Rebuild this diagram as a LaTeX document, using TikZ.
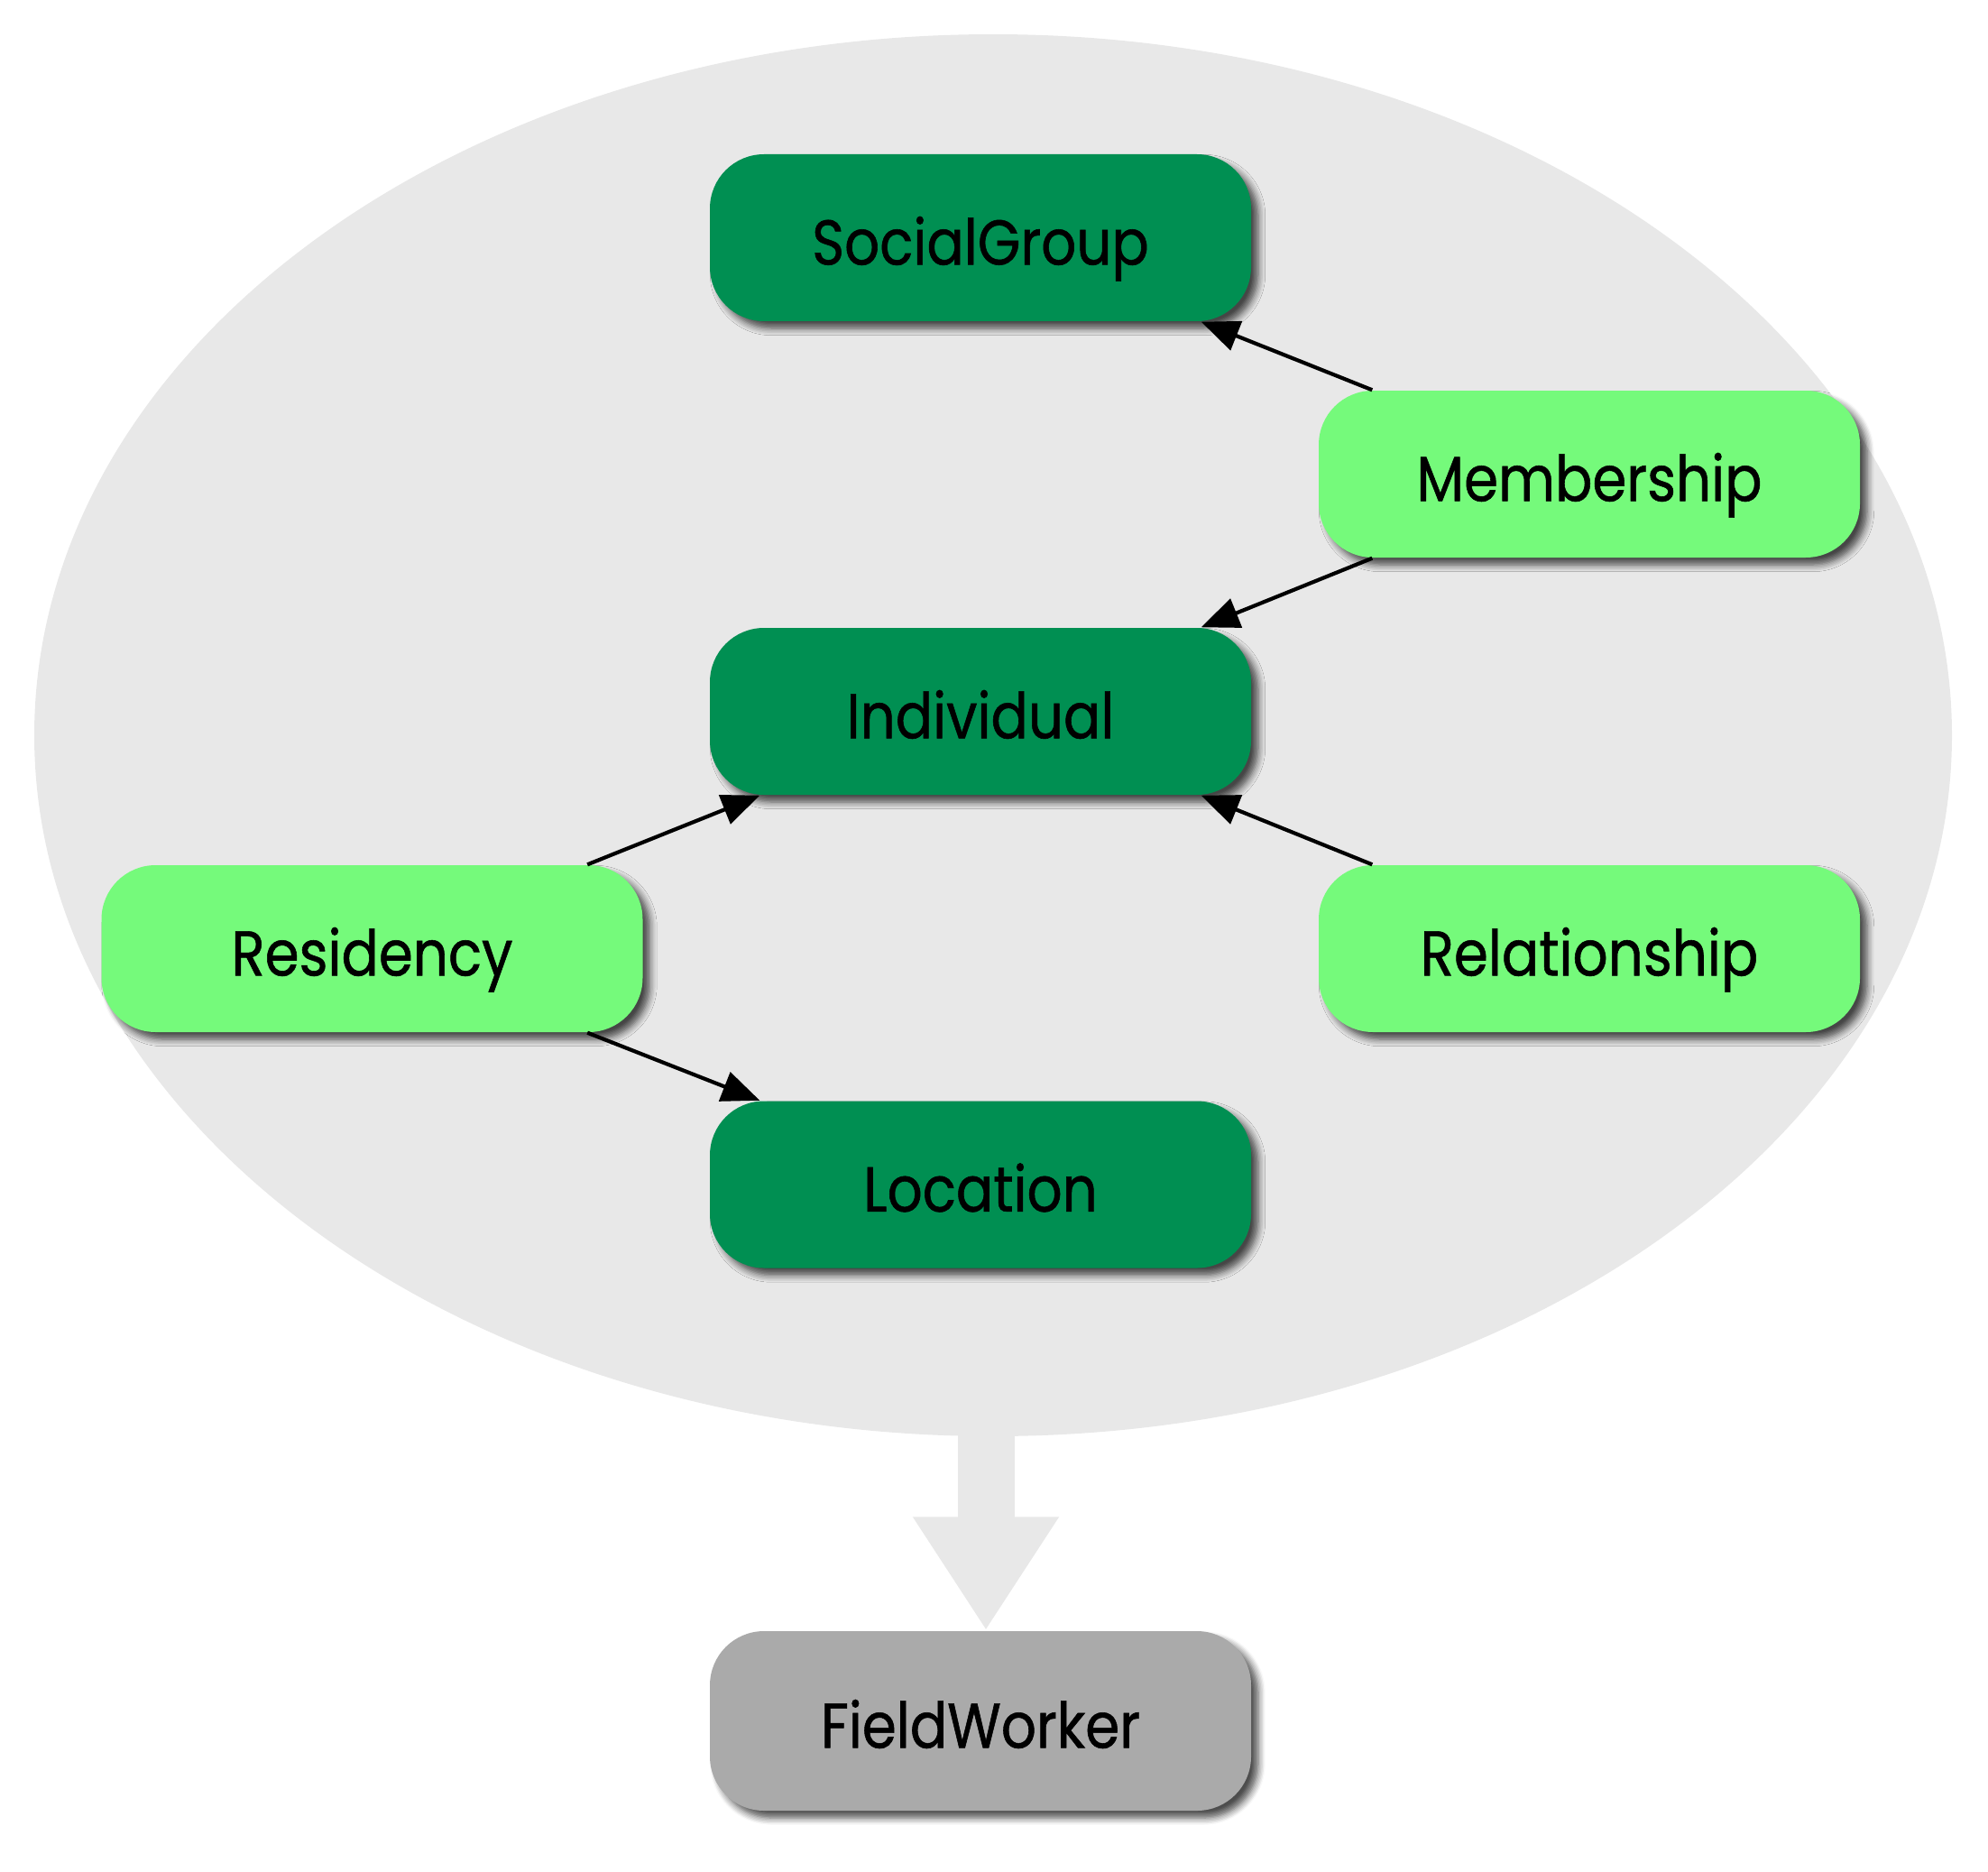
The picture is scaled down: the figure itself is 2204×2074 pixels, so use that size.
\documentclass[tikz,border=0pt]{standalone}
\usepackage{fontspec}
\setmainfont[FakeStretch=0.87, FakeBold=0.8]{Poppins}
\usetikzlibrary{arrows.meta,shapes.geometric,shadows.blur}
\definecolor{clusterbg}{HTML}{E8E8E8}
\definecolor{darkent}{HTML}{008F52}
\definecolor{lightent}{HTML}{75FA7B}
\definecolor{fwgray}{HTML}{AAAAAA}
\tikzset{
  entity/.style={rounded corners=6mm, minimum width=60mm, minimum height=18.5mm,
    inner sep=0pt, font=\fontsize{20}{22}\selectfont, text=black,
    text height=17pt, text depth=0pt,
    blur shadow={shadow xshift=0.8mm, shadow yshift=-0.8mm, shadow blur steps=6, shadow opacity=70}},
  dark/.style={entity, fill=darkent},
  light/.style={entity, fill=lightent},
  grayent/.style={entity, fill=fwgray, minimum height=19.9mm},
  rel/.style={line width=1.2pt, -{Triangle[length=4.2mm 0 0, width=3.4mm 0]}},
}
\begin{document}
\begin{tikzpicture}[x=0.1mm, y=-0.1mm]
\useasboundingbox (0,0) rectangle (2204,2074);
\node[ellipse, fill=clusterbg, minimum width=212.6mm, minimum height=155.4mm, inner sep=0pt] (cluster) at (1101,815) {};
\node[dark] (sg) at (1087,263.5) {SocialGroup};
\node[light] (mem) at (1762,525.5) {Membership};
\node[dark] (ind) at (1087,788.5) {Individual};
\node[light] (res) at (412.5,1051.5) {Residency};
\node[light] (rel) at (1762,1051.5) {Relationship};
\node[dark] (loc) at (1087,1313) {Location};
\node[grayent] (fw) at (1087,1907.5) {FieldWorker};
\coordinate (cb) at ([yshift=1mm, xshift=-0.8mm]cluster.south);
\draw[clusterbg, line width=6.3mm, -{Triangle[length=12.6mm 0 0, width=15.3mm 0]}] (cb) -- (cb |- fw.north);
\draw[rel] ([xshift=6mm]mem.north west) -- ([xshift=-5.6mm]sg.south east);
\draw[rel] ([xshift=6mm]mem.south west) -- ([xshift=-5.6mm]ind.north east);
\draw[rel] ([xshift=6mm]rel.north west) -- ([xshift=-5.6mm]ind.south east);
\draw[rel] ([xshift=-6.2mm]res.north east) -- ([xshift=5.6mm]ind.south west);
\draw[rel] ([xshift=-6.2mm]res.south east) -- ([xshift=5.6mm]loc.north west);
\end{tikzpicture}
\end{document}
